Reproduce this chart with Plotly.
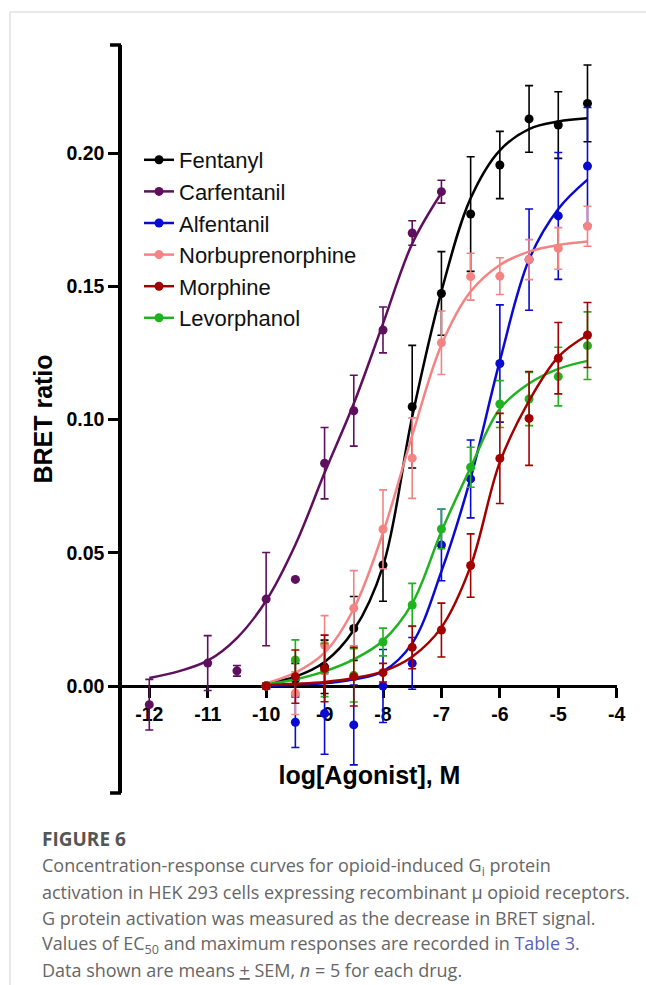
import plotly.graph_objects as go

# ---------------- data ----------------
log_conc = [-10, -9.5, -9, -8.5, -8, -7.5, -7, -6.5, -6, -5.5, -5, -4.5]
carf_conc = [-12, -11, -10.5, -10, -9.5, -9, -8.5, -8, -7.5, -7]
carf_fit_conc = [-12, -11.5, -11, -10.5, -10, -9.5, -9, -8.5, -8, -7.5, -7]

fentanyl_mean = [0.0, 0.0025, 0.0072, 0.0216, 0.0454, 0.1048, 0.1473, 0.1771, 0.1955, 0.2128, 0.2105, 0.2186]
fentanyl_sem = [0.001, 0.006, 0.010, 0.012, 0.0136, 0.023, 0.0157, 0.0215, 0.0126, 0.0125, 0.0125, 0.0144]
fentanyl_fit = [0.001, 0.0035, 0.009, 0.021, 0.045, 0.101, 0.148, 0.183, 0.201, 0.209, 0.2118, 0.213]

carf_mean = [-0.007, 0.0086, 0.0057, 0.0326, 0.040, 0.0836, 0.1033, 0.1336, 0.170, 0.1855]
carf_sem = [0.0095, 0.0103, 0.002, 0.0175, 0.0003, 0.0134, 0.0133, 0.0086, 0.0046, 0.0043]
carf_fit = [0.003, 0.0055, 0.0095, 0.018, 0.032, 0.053, 0.080, 0.106, 0.136, 0.166, 0.185]

alfentanil_mean = [0.0, -0.0136, -0.0103, -0.0146, 0.0, 0.0085, 0.0529, 0.0777, 0.121, 0.160, 0.1764, 0.1951]
alfentanil_sem = [0.001, 0.0095, 0.0153, 0.015, 0.0137, 0.0097, 0.0134, 0.0146, 0.022, 0.019, 0.0238, 0.022]
alfentanil_fit = [0.0, 0.0005, 0.001, 0.0025, 0.0055, 0.016, 0.043, 0.078, 0.122, 0.160, 0.179, 0.190]

norbup_mean = [0.0, -0.0027, 0.0154, 0.0292, 0.0588, 0.0855, 0.1288, 0.1536, 0.1538, 0.160, 0.1642, 0.1725]
norbup_sem = [0.001, 0.008, 0.011, 0.0141, 0.0148, 0.0151, 0.0119, 0.0088, 0.0069, 0.0075, 0.0078, 0.0075]
norbup_fit = [0.001, 0.005, 0.0125, 0.029, 0.0575, 0.094, 0.128, 0.148, 0.158, 0.163, 0.1655, 0.1668]

morphine_mean = [0.0, 0.0035, 0.0066, 0.0035, 0.005, 0.0145, 0.021, 0.0452, 0.0854, 0.1004, 0.123, 0.1317]
morphine_sem = [0.001, 0.010, 0.0125, 0.011, 0.0035, 0.008, 0.0101, 0.0119, 0.0169, 0.0176, 0.0134, 0.0122]
morphine_fit = [0.0003, 0.0008, 0.0015, 0.003, 0.0055, 0.011, 0.022, 0.045, 0.084, 0.107, 0.1235, 0.1317]

levorph_mean = [0.0, 0.0098, 0.006, 0.004, 0.0165, 0.0304, 0.0589, 0.0821, 0.1058, 0.1077, 0.1161, 0.1277]
levorph_sem = [0.001, 0.0075, 0.010, 0.010, 0.0052, 0.0081, 0.0074, 0.0075, 0.0088, 0.010, 0.011, 0.0127]
levorph_fit = [0.0005, 0.0025, 0.0055, 0.010, 0.017, 0.031, 0.058, 0.082, 0.104, 0.1135, 0.119, 0.122]

legend_names = ["Fentanyl", "Carfentanil", "Alfentanil", "Norbuprenorphine", "Morphine", "Levorphanol"]
colors = {
    "Fentanyl": "#000000",
    "Carfentanil": "#5e0f5e",
    "Alfentanil": "#0a0ad0",
    "Norbuprenorphine": "#f48484",
    "Morphine": "#a30000",
    "Levorphanol": "#1fb41f",
}

x_tick_vals = [-12, -11, -10, -9, -8, -7, -6, -5, -4]
x_tick_text = ["-12", "-11", "-10", "-9", "-8", "-7", "-6", "-5", "-4"]
y_tick_vals = [0.0, 0.05, 0.10, 0.15, 0.20]
y_tick_text = ["0.00", "0.05", "0.10", "0.15", "0.20"]

caption_lines = [
    "<b>FIGURE 6</b>",
    "Concentration-response curves for opioid-induced G<sub>i</sub> protein",
    "activation in HEK 293 cells expressing recombinant μ opioid receptors.",
    "G protein activation was measured as the decrease in BRET signal.",
    "Values of EC<sub>50</sub> and maximum responses are recorded in <span style='color:#5a63b8'>Table 3</span>.",
    "Data shown are means <u>+</u> SEM, <i>n</i> = 5 for each drug.",
]

# ---------------- layout geometry ----------------
FIG_W, FIG_H = 646, 985
M_L, M_R, M_T, M_B = 122, 29, 45, 192
PLOT_W = FIG_W - M_L - M_R
PLOT_H = FIG_H - M_T - M_B
X_RANGE = [-12.467, -3.995]
Y_RANGE = [-0.04015, 0.24053]


def px_x(px):
    return (px - M_L) / PLOT_W


def px_y(py):
    return (FIG_H - M_B - py) / PLOT_H


zero_pos = (0 - Y_RANGE[0]) / (Y_RANGE[1] - Y_RANGE[0])

fig = go.Figure()

# legend entries
for name in legend_names:
    fig.add_trace(go.Scatter(
        x=[None], y=[None], mode="lines+markers", name=name,
        line=dict(color=colors[name], width=2.5),
        marker=dict(color=colors[name], size=9),
        showlegend=True, hoverinfo="skip",
    ))

series = [
    ("Fentanyl", log_conc, fentanyl_mean, fentanyl_sem, log_conc, fentanyl_fit),
    ("Carfentanil", carf_conc, carf_mean, carf_sem, carf_fit_conc, carf_fit),
    ("Alfentanil", log_conc, alfentanil_mean, alfentanil_sem, log_conc, alfentanil_fit),
    ("Norbuprenorphine", log_conc, norbup_mean, norbup_sem, log_conc, norbup_fit),
    ("Levorphanol", log_conc, levorph_mean, levorph_sem, log_conc, levorph_fit),
    ("Morphine", log_conc, morphine_mean, morphine_sem, log_conc, morphine_fit),
]

for name, xs, ys, sem, fx, fy in series:
    c = colors[name]
    fig.add_trace(go.Scatter(
        x=fx, y=fy, mode="lines", line=dict(color=c, width=2.5, shape="spline", smoothing=1.0),
        showlegend=False, name=name + " fit",
    ))
    fig.add_trace(go.Scatter(
        x=xs, y=ys, mode="markers", marker=dict(color=c, size=9),
        error_y=dict(type="data", array=sem, color=c, thickness=1.6, width=4),
        showlegend=False, name=name,
    ))

tick_font = dict(family="Liberation Sans, Arial, sans-serif", size=19.5, color="black", weight="bold")
title_font = dict(family="Liberation Sans, Arial, sans-serif", size=25, color="black", weight="bold")

fig.update_layout(
    width=FIG_W, height=FIG_H,
    margin=dict(l=M_L, r=M_R, t=M_T, b=M_B),
    paper_bgcolor="white", plot_bgcolor="white",
    showlegend=True,
    legend=dict(
        x=px_x(139), y=px_y(139), xanchor="left", yanchor="top",
        font=dict(family="Liberation Sans, Arial, sans-serif", size=22, color="#111111"),
        bgcolor="rgba(0,0,0,0)", borderwidth=0, traceorder="normal",
    ),
    xaxis=dict(
        range=X_RANGE, anchor="free", position=zero_pos, side="bottom",
        tickmode="array", tickvals=x_tick_vals, ticktext=x_tick_text,
        showline=True, linewidth=3, linecolor="black",
        ticks="outside", ticklen=10, tickwidth=3, tickcolor="black",
        tickfont=tick_font, showgrid=False, zeroline=False, layer="below traces",
        title=dict(text="log[Agonist], M", font=title_font, standoff=42),
    ),
    yaxis=dict(
        range=Y_RANGE, tickmode="array", tickvals=y_tick_vals, ticktext=y_tick_text,
        showline=True, linewidth=3.5, linecolor="black",
        ticks="outside", ticklen=10, tickwidth=3, tickcolor="black",
        tickfont=tick_font, showgrid=False, zeroline=False, layer="below traces",
        title=dict(text="BRET ratio", font=title_font, standoff=8),
    ),
)

# y-axis bracket caps and page border
shapes = [
    dict(type="line", xref="paper", yref="paper", x0=px_x(110), x1=px_x(121), y0=1, y1=1,
         line=dict(color="black", width=3.5)),
    dict(type="line", xref="paper", yref="paper", x0=px_x(110), x1=px_x(121), y0=0, y1=0,
         line=dict(color="black", width=3.5)),
    dict(type="line", xref="paper", yref="paper", x0=px_x(10), x1=px_x(646), y0=px_y(12), y1=px_y(12),
         line=dict(color="#d3d3d3", width=1)),
    dict(type="line", xref="paper", yref="paper", x0=px_x(10), x1=px_x(10), y0=px_y(12), y1=px_y(985),
         line=dict(color="#d3d3d3", width=1)),
]
fig.update_layout(shapes=shapes)

caption_y = [839, 866, 892, 918, 944, 970]
for i, (line, cy) in enumerate(zip(caption_lines, caption_y)):
    fig.add_annotation(
        text=line, xref="paper", yref="paper", x=px_x(40), y=px_y(cy),
        xanchor="left", yanchor="middle", showarrow=False, align="left",
        font=dict(family="Open Sans, Noto Sans, sans-serif", size=19 if i == 0 else 18,
                  color="#555555" if i == 0 else "#666666"),
    )

fig.write_html("out.html")
